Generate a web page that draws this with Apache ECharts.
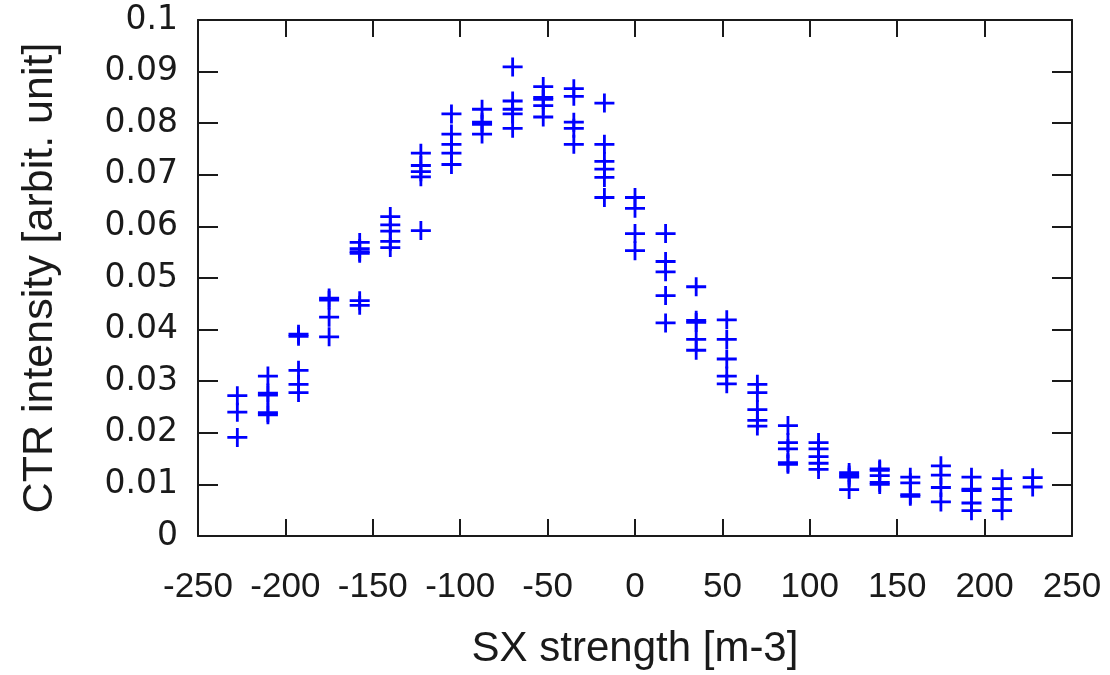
<!DOCTYPE html>
<html>
<head>
<meta charset="utf-8">
<script src="https://cdn.jsdelivr.net/npm/echarts@6/dist/echarts.min.js"></script>
<style>
html,body{margin:0;padding:0;background:#fff;}
#chart{width:1110px;height:675px;}
</style>
</head>
<body>
<div id="chart"></div>
<script>
// SX strength values of each measurement column
var sxStrength = [-227.5, -210, -192.5, -175, -157.5, -140, -122.5, -105, -87.5, -70, -52.5, -35, -17.5,
  0, 17.5, 35, 52.5, 70, 87.5, 105, 122.5, 140, 157.5, 175, 192.5, 210, 227.5];

// CTR intensity readings for each column (same order as sxStrength)
var ctrIntensity = [
  [0.0272, 0.0240, 0.0191],
  [0.0310, 0.0277, 0.0273, 0.0239, 0.0235],
  [0.0391, 0.0387, 0.0321, 0.0294, 0.0278],
  [0.0461, 0.0457, 0.0424, 0.0386],
  [0.0569, 0.0557, 0.0551, 0.0548, 0.0456, 0.0447],
  [0.0619, 0.0603, 0.0591, 0.0571, 0.0559],
  [0.0742, 0.0718, 0.0706, 0.0696, 0.0592],
  [0.0818, 0.0779, 0.0759, 0.0742, 0.0720],
  [0.0827, 0.0802, 0.0798, 0.0779],
  [0.0909, 0.0843, 0.0827, 0.0818, 0.0790],
  [0.0871, 0.0850, 0.0846, 0.0834, 0.0812],
  [0.0867, 0.0852, 0.0802, 0.0790, 0.0759],
  [0.0839, 0.0759, 0.0726, 0.0711, 0.0695, 0.0656],
  [0.0656, 0.0635, 0.0586, 0.0553],
  [0.0586, 0.0532, 0.0512, 0.0466, 0.0413],
  [0.0483, 0.0418, 0.0414, 0.0381, 0.0360],
  [0.0419, 0.0381, 0.0343, 0.0310, 0.0295],
  [0.0294, 0.0278, 0.0245, 0.0224, 0.0213],
  [0.0214, 0.0181, 0.0169, 0.0142, 0.0139],
  [0.0181, 0.0169, 0.0154, 0.0141, 0.0129],
  [0.0123, 0.0118, 0.0114, 0.0090],
  [0.0130, 0.0127, 0.0117, 0.0104, 0.0100],
  [0.0114, 0.0103, 0.0080, 0.0077],
  [0.0136, 0.0118, 0.0094, 0.0066],
  [0.0114, 0.0091, 0.0088, 0.0064, 0.0049],
  [0.0111, 0.0092, 0.0071, 0.0049],
  [0.0113, 0.0095]
];

var xTicks = [-250, -200, -150, -100, -50, 0, 50, 100, 150, 200, 250];
var yTicks = [0, 0.01, 0.02, 0.03, 0.04, 0.05, 0.06, 0.07, 0.08, 0.09, 0.1];

var points = [];
sxStrength.forEach(function (x, i) {
  ctrIntensity[i].forEach(function (y) { points.push([x, y]); });
});

var frameColor = '#1a1a1a';
var plusPath = 'path://M8.6,0 H11.4 V8.1 H20 V10.9 H11.4 V19 H8.6 V10.9 H0 V8.1 H8.6 Z';

var chart = echarts.init(document.getElementById('chart'), null, {renderer: 'canvas'});
chart.setOption({
  animation: false,
  backgroundColor: '#ffffff',
  grid: {left: 198, right: 38, top: 20, bottom: 135, containLabel: false},
  xAxis: [{
    type: 'value', position: 'bottom',
    min: xTicks[0], max: xTicks[xTicks.length - 1], interval: 50,
    name: 'SX strength [m-3]', nameLocation: 'middle', nameGap: 92,
    nameTextStyle: {fontFamily: 'Liberation Sans', fontSize: 42, color: '#1a1a1a'},
    axisLine: {show: true, onZero: false, lineStyle: {color: frameColor, width: 2}},
    axisTick: {show: true, inside: true, length: 17, lineStyle: {color: frameColor, width: 2}},
    axisLabel: {show: true, margin: 34, fontFamily: 'Liberation Sans', fontSize: 35, color: '#1a1a1a'},
    splitLine: {show: false}
  }, {
    type: 'value', position: 'top',
    min: xTicks[0], max: xTicks[xTicks.length - 1], interval: 50,
    axisLine: {show: true, onZero: false, lineStyle: {color: frameColor, width: 2}},
    axisTick: {show: true, inside: true, length: 17, lineStyle: {color: frameColor, width: 2}},
    axisLabel: {show: false},
    splitLine: {show: false}
  }],
  yAxis: [{
    type: 'value', position: 'left',
    min: yTicks[0], max: yTicks[yTicks.length - 1], interval: 0.01,
    name: 'CTR intensity [arbit. unit]', nameLocation: 'middle', nameGap: 136, nameRotate: 90,
    nameTextStyle: {fontFamily: 'Liberation Sans', fontSize: 43, color: '#1a1a1a'},
    axisLine: {show: true, onZero: false, lineStyle: {color: frameColor, width: 2}},
    axisTick: {show: true, inside: true, length: 20, lineStyle: {color: frameColor, width: 2}},
    axisLabel: {show: true, margin: 20, fontFamily: 'DejaVu Sans', fontSize: 33, color: '#1a1a1a',
      formatter: function (v) { return String(Math.round(v * 100) / 100); }},
    splitLine: {show: false}
  }, {
    type: 'value', position: 'right',
    min: yTicks[0], max: yTicks[yTicks.length - 1], interval: 0.01,
    axisLine: {show: true, onZero: false, lineStyle: {color: frameColor, width: 2}},
    axisTick: {show: true, inside: true, length: 20, lineStyle: {color: frameColor, width: 2}},
    axisLabel: {show: false},
    splitLine: {show: false}
  }],
  series: [{
    type: 'scatter',
    xAxisIndex: 0, yAxisIndex: 0,
    data: points,
    symbol: plusPath,
    symbolSize: [20, 19],
    itemStyle: {color: '#0000ff', opacity: 1},
    emphasis: {disabled: true}
  }]
});
</script>
</body>
</html>
